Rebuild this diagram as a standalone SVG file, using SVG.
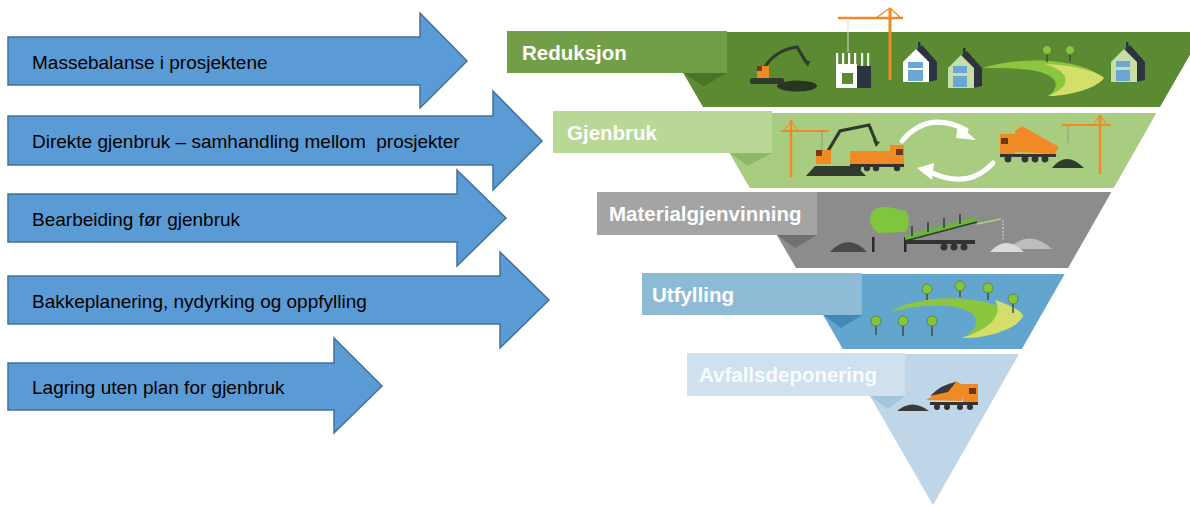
<svg xmlns="http://www.w3.org/2000/svg" width="1190" height="506" viewBox="0 0 1190 506">
<style>
.arrow{fill:#5B9BD5;stroke:#41719C;stroke-width:1.5;stroke-linejoin:miter}
.atext{font-family:"Liberation Sans",Arial,sans-serif;font-size:19px;fill:#000;white-space:pre}
.ltext{font-family:"Liberation Sans",Arial,sans-serif;font-size:20.5px;font-weight:bold;fill:#fff}
.or{fill:#F08A24}
.ors{stroke:#F08A24;fill:none}
.dk{fill:#2f3b2c}
.whl{fill:#333}
.tree{fill:#86c440;stroke:#4f7d2a;stroke-width:0.8}
.trunk{stroke:#4a4a3a;stroke-width:1.5}
</style>
<rect width="1190" height="506" fill="#fff"/>

<g id="arrows">
<g id="arrow1"><polygon class="arrow" points="8,37 420,37 420,13 467,61 420,108 420,85 8,85"/><text class="atext" x="32" y="68.5">Massebalanse i prosjektene</text></g>
<g id="arrow2"><polygon class="arrow" points="8,116 493,116 493,91 542,141 493,190 493,165 8,165"/><text class="atext" x="32" y="148" xml:space="preserve">Direkte gjenbruk – samhandling mellom  prosjekter</text></g>
<g id="arrow3"><polygon class="arrow" points="8,194 457,194 457,170 506,218 457,266 457,242 8,242"/><text class="atext" x="32" y="225.5">Bearbeiding før gjenbruk</text></g>
<g id="arrow4"><polygon class="arrow" points="8,276 500,276 500,252 549,300 500,348 500,324 8,324"/><text class="atext" x="32" y="307.5">Bakkeplanering, nydyrking og oppfylling</text></g>
<g id="arrow5"><polygon class="arrow" points="8,363 334,363 334,338 382,386 334,433 334,410 8,410"/><text class="atext" x="32" y="394">Lagring uten plan for gjenbruk</text></g>
</g>

<g id="pyramid">
<g id="reduksjon">
<polygon points="659.6,32 1203,32 1160,107 703,107" fill="#5b8a32"/>
<polygon points="683,73 727,73 704,86" fill="#4a7428"/>
<line x1="890" y1="9" x2="890" y2="80" class="ors" stroke-width="3"/>
<line x1="838" y1="18" x2="903" y2="18" class="ors" stroke-width="2.5"/>
<polyline points="876,18 890,8 901,18" class="ors" stroke-width="1.2"/>
<line x1="848" y1="18" x2="848" y2="52" stroke="#d9d9d9" stroke-width="1"/>
<ellipse cx="797" cy="86" rx="20" ry="5.5" fill="#27361f"/>
<path d="M763,70 Q774,50 797,47 L806,62" stroke="#2f3b2c" stroke-width="3.2" fill="none"/>
<polygon points="803,60 810,61 808,67" class="dk"/>
<rect x="750" y="78" width="34" height="6" rx="2" class="dk"/>
<rect x="757" y="66" width="12" height="12" class="or"/>
<rect x="757" y="66" width="5" height="5" fill="#7a3b10"/>
<rect x="836" y="64" width="21" height="24" fill="#fff"/>
<rect x="842" y="73" width="11" height="11" fill="#5b8a32"/>
<rect x="836" y="53" width="2.2" height="11" fill="#fff"/>
<rect x="842" y="53" width="2.2" height="11" fill="#fff"/>
<rect x="848" y="53" width="2.2" height="11" fill="#fff"/>
<rect x="854" y="53" width="2.2" height="11" fill="#fff"/>
<rect x="857" y="66" width="14" height="22" fill="#2c3440"/>
<rect x="861" y="53" width="2.2" height="13" fill="#e8f0e0"/>
<rect x="867" y="53" width="2.2" height="13" fill="#e8f0e0"/>
<polygon points="916,50 922,45 937,62 937,80 928,82 928,62" fill="#2c3440"/>
<rect x="918" y="42" width="2.5" height="6" fill="#2c3440"/>
<polygon points="903,62 916,49 929,62 929,82 903,82" fill="#fff"/>
<rect x="908" y="62" width="15" height="6" fill="#6aa6d6"/>
<rect x="908" y="70" width="15" height="11" fill="#6aa6d6"/>
<polygon points="961,56 967,51 982,68 982,86 973,88 973,68" fill="#2c3440"/>
<rect x="963" y="48" width="2.5" height="6" fill="#2c3440"/>
<polygon points="948,68 961,55 974,68 974,88 948,88" fill="#c9dea6"/>
<rect x="953" y="66" width="14" height="7" fill="#6aa6d6"/>
<rect x="953" y="76" width="14" height="11" fill="#6aa6d6"/>
<path d="M983,68 C1020,56 1080,58 1104,78 C1095,90 1065,96 1048,96 C1062,86 1058,74 1030,70 C1015,68 1000,68 983,68 Z" fill="#8cc63f"/>
<path d="M1045,64 C1075,65 1098,72 1104,78 C1095,90 1065,96 1048,96 C1072,87 1072,72 1045,64 Z" fill="#d3df6a"/>
<line x1="1047" y1="50" x2="1047" y2="62" class="trunk"/>
<circle cx="1047" cy="50" r="4.5" class="tree"/>
<line x1="1070" y1="50" x2="1070" y2="62" class="trunk"/>
<circle cx="1070" cy="50" r="4.5" class="tree"/>
<polygon points="1124,50 1130,45 1145,62 1145,80 1136,82 1136,62" fill="#2c3440"/>
<rect x="1126" y="42" width="2.5" height="6" fill="#2c3440"/>
<polygon points="1111,62 1124,49 1137,62 1137,82 1111,82" fill="#c9dea6"/>
<rect x="1116" y="61" width="14" height="6" fill="#6aa6d6"/>
<rect x="1116" y="70" width="14" height="11" fill="#6aa6d6"/>
<rect x="507" y="31" width="220" height="42" fill="#739e48"/>
<text class="ltext" x="522" y="60">Reduksjon</text>
</g>

<g id="gjenbruk">
<polygon points="706.4,113 1156.4,113 1113.7,188 749.8,188" fill="#a9cd80"/>
<polygon points="730,153 772,153 748,166" fill="#8fb865"/>
<line x1="791" y1="120" x2="791" y2="177" class="ors" stroke-width="2.5"/>
<line x1="781" y1="131" x2="829" y2="131" class="ors" stroke-width="2"/>
<polyline points="784,131 791,121 798,131" class="ors" stroke-width="1"/>
<line x1="822" y1="131" x2="822" y2="152" stroke="#8a8a8a" stroke-width="0.8"/>
<polygon points="806,176 815,166 856,166 866,176" class="dk"/>
<path d="M828,151 L840,131 L869,125 L876,142" stroke="#2f3b2c" stroke-width="3.2" fill="none"/>
<polygon points="873,140 880,142 876,147" class="dk"/>
<rect x="816" y="150" width="15" height="14" class="or"/>
<rect x="816" y="150" width="6" height="6" fill="#7a3b10"/>
<rect x="850" y="151" width="42" height="13" class="or"/>
<rect x="890" y="145" width="14" height="21" class="or"/>
<rect x="896" y="149" width="7" height="6" fill="#6b3a12"/>
<rect x="850" y="164" width="54" height="3" fill="#333"/>
<circle cx="858" cy="168" r="3.2" class="whl"/>
<circle cx="867" cy="168" r="3.2" class="whl"/>
<circle cx="876" cy="168" r="3.2" class="whl"/>
<circle cx="897" cy="168" r="3.2" class="whl"/>
<path d="M902,141 Q928,110 966,130" stroke="#fff" stroke-width="5" fill="none" stroke-linecap="round"/>
<polygon points="958,124 976,140 956,138" fill="#fff"/>
<path d="M993,163 Q968,190 930,172" stroke="#fff" stroke-width="5" fill="none" stroke-linecap="round"/>
<polygon points="934,163 917,168 932,180" fill="#fff"/>
<polygon points="1015,131 1022,126 1059,147 1055,154 1015,152" class="or"/>
<rect x="1000" y="134" width="15" height="22" class="or"/>
<rect x="1001" y="138" width="7" height="6" fill="#6b3a12"/>
<rect x="1000" y="154" width="56" height="3" fill="#333"/>
<circle cx="1008" cy="159" r="3.4" class="whl"/>
<circle cx="1025" cy="159" r="3.4" class="whl"/>
<circle cx="1035" cy="159" r="3.4" class="whl"/>
<circle cx="1045" cy="159" r="3.4" class="whl"/>
<path d="M1052,168 Q1066,150 1084,168 Z" class="dk"/>
<line x1="1100" y1="115" x2="1100" y2="174" class="ors" stroke-width="2.5"/>
<line x1="1062" y1="125" x2="1111" y2="125" class="ors" stroke-width="2"/>
<polyline points="1093,125 1100,115 1107,125" class="ors" stroke-width="1"/>
<line x1="1068" y1="125" x2="1068" y2="143" stroke="#8a8a8a" stroke-width="0.8"/>
<rect x="553" y="111" width="219" height="42" fill="#b9d797"/>
<text class="ltext" x="567" y="139.5">Gjenbruk</text>
</g>

<g id="materialgjenvinning">
<polygon points="752,192 1111.4,192 1068.1,268 796,268" fill="#8c8c8c"/>
<polygon points="777,235 817,235 795,248" fill="#707070"/>
<path d="M830,252 Q848,232 867,252 Z" fill="#4a4a4a"/>
<rect x="872" y="237" width="2.5" height="15" fill="#2a2a2a"/>
<rect x="904" y="237" width="2.5" height="15" fill="#2a2a2a"/>
<path d="M870,218 Q871,206 888,207 L906,211 Q912,222 906,232 L878,233 Q870,228 870,218 Z" fill="#7ec63e"/>
<line x1="905" y1="238" x2="977" y2="219" stroke="#6cb33f" stroke-width="5"/>
<line x1="912" y1="236" x2="912" y2="226" stroke="#2f3b2c" stroke-width="1.5"/>
<line x1="928" y1="232" x2="928" y2="222" stroke="#2f3b2c" stroke-width="1.5"/>
<line x1="944" y1="228" x2="944" y2="218" stroke="#2f3b2c" stroke-width="1.5"/>
<line x1="960" y1="224" x2="960" y2="214" stroke="#2f3b2c" stroke-width="1.5"/>
<line x1="905" y1="241" x2="977" y2="222" stroke="#2f3b2c" stroke-width="1.5"/>
<rect x="905" y="240" width="70" height="4" fill="#333"/>
<circle cx="944" cy="247" r="3.5" class="whl"/>
<circle cx="954" cy="247" r="3.5" class="whl"/>
<circle cx="964" cy="247" r="3.5" class="whl"/>
<line x1="977" y1="224" x2="1001" y2="219" stroke="#a8d878" stroke-width="1.5"/>
<line x1="1003" y1="220" x2="1003" y2="240" stroke="#cfcfcf" stroke-width="1.2" stroke-dasharray="2,1.5"/>
<path d="M1008,249 Q1030,228 1052,249 Z" fill="#bdbdbd"/>
<path d="M990,252 Q1006,234 1024,252 Z" fill="#dadada"/>
<rect x="597" y="192" width="220" height="43" fill="#a4a4a4"/>
<text class="ltext" x="609" y="221">Materialgjenvinning</text>
</g>

<g id="utfylling">
<polygon points="799.5,274 1064.7,274 1021.9,349 842.8,349" fill="#62a6cf"/>
<polygon points="823,315 862,315 841,328" fill="#3f8ab8"/>
<path d="M890,312 C915,296 975,290 1023,316 C1018,328 990,338 962,338 C985,326 980,310 950,306 C925,304 905,308 890,312 Z" fill="#8cc63f"/>
<path d="M995,300 C1012,306 1022,311 1023,316 C1018,328 990,338 962,338 C990,329 1004,315 995,300 Z" fill="#d3df6a"/>
<line x1="927" y1="290" x2="927" y2="300" class="trunk"/>
<circle cx="927" cy="289" r="5" class="tree"/>
<line x1="960" y1="287" x2="960" y2="297" class="trunk"/>
<circle cx="960" cy="286" r="5" class="tree"/>
<line x1="988" y1="289" x2="988" y2="300" class="trunk"/>
<circle cx="988" cy="288" r="5" class="tree"/>
<line x1="1013" y1="300" x2="1013" y2="313" class="trunk"/>
<circle cx="1013" cy="299" r="5" class="tree"/>
<line x1="876" y1="322" x2="876" y2="335" class="trunk"/>
<circle cx="876" cy="321" r="5" class="tree"/>
<line x1="903" y1="322" x2="903" y2="336" class="trunk"/>
<circle cx="903" cy="321" r="5" class="tree"/>
<line x1="932" y1="322" x2="932" y2="336" class="trunk"/>
<circle cx="932" cy="321" r="5" class="tree"/>
<rect x="642" y="273" width="220" height="42" fill="#8dbbd6"/>
<text class="ltext" x="652" y="301.5">Utfylling</text>
</g>

<g id="avfallsdeponering">
<polygon points="845.7,354 1019,354 933,505" fill="#bed6e8"/>
<polygon points="870,396 905,396 888,409" fill="#a5c5dd"/>
<path d="M897,411 Q912,398 929,411 Z" fill="#3a3a3a"/>
<polygon points="926,400 956,381 965,386 962,401" class="or"/>
<path d="M930,396 Q942,384 956,382 L948,392 Z" fill="#3a3a3a"/>
<rect x="963" y="384" width="15" height="20" class="or"/>
<rect x="969" y="388" width="7" height="6" fill="#6b3a12"/>
<rect x="930" y="402" width="48" height="3" fill="#333"/>
<circle cx="937" cy="407" r="3" class="whl"/>
<circle cx="947" cy="407" r="3" class="whl"/>
<circle cx="960" cy="407" r="3" class="whl"/>
<circle cx="970" cy="407" r="3" class="whl"/>
<rect x="687" y="353" width="218" height="43" fill="#cfe1ee"/>
<text class="ltext" x="699" y="382" fill-opacity="0.9">Avfallsdeponering</text>
</g>
</g>
</svg>
